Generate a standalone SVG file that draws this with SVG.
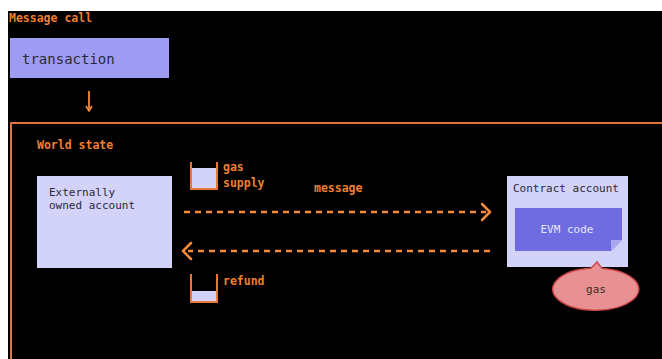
<svg xmlns="http://www.w3.org/2000/svg" width="662" height="359" viewBox="0 0 662 359">
  <defs>
    <style>
      .lbl { font-family: "DejaVu Sans Mono", "Liberation Mono", monospace; fill: #f07f30; font-weight: bold; font-size: 11.5px; }
      .mono { font-family: "DejaVu Sans Mono", "Liberation Mono", monospace; fill: #2a2a3a; }
      .dash { stroke: #f48a3c; stroke-width: 2.5; stroke-dasharray: 6 5; fill: none; }
      .chev { stroke: #f48a3c; stroke-width: 2.5; fill: none; stroke-linecap: round; stroke-linejoin: round; }
      .cup { stroke: #e8783a; stroke-width: 2; fill: none; }
    </style>
  </defs>

  <!-- page -->
  <rect x="0" y="0" width="662" height="359" fill="#ffffff"/>
  <rect x="8" y="11" width="654" height="348" fill="#000000"/>

  <g id="message-call">
    <text class="lbl" x="9" y="22">Message call</text>
  </g>

  <g id="transaction">
    <rect x="10" y="38" width="159" height="40" fill="#9d9cf2"/>
    <text class="mono" x="22" y="64" font-size="14">transaction</text>
  </g>

  <g id="world-state">
    <rect x="11" y="123" width="660" height="250" fill="none" stroke="#e0743a" stroke-width="2"/>
    <text class="lbl" x="37" y="149">World state</text>
  </g>

  <g id="eoa">
    <rect x="37" y="176" width="135" height="92" fill="#d3d2f8"/>
    <text class="mono" x="49" y="196" font-size="11">Externally</text>
    <text class="mono" x="49" y="209" font-size="11">owned account</text>
  </g>

  <g id="gas-supply">
    <rect x="191" y="168" width="26" height="21" fill="#d3d2f8"/>
    <path class="cup" d="M191 162 V189 H217 V162"/>
    <text class="lbl" x="223" y="171" font-size="11">gas</text>
    <text class="lbl" x="223" y="187" font-size="11">supply</text>
  </g>

  <g id="refund">
    <rect x="191" y="291" width="26" height="11" fill="#d3d2f8"/>
    <path class="cup" d="M191 274 V302 H217 V274"/>
    <text class="lbl" x="223" y="285">refund</text>
  </g>

  <g id="contract-account">
    <rect x="507" y="176" width="121" height="91" fill="#d3d2f8"/>
    <text class="mono" x="513" y="192" font-size="11">Contract account</text>
    <g id="evm-code">
      <path d="M515 208 H622 V240 L611 251 H515 Z" fill="#6e6ce0"/>
      <path d="M611 251 L611 240 H622 Z" fill="#a9a8f0"/>
      <text x="567" y="233" font-size="11" text-anchor="middle" font-family="DejaVu Sans Mono, Liberation Mono, monospace" fill="#e6e6ff">EVM code</text>
    </g>
  </g>

  <g id="gas">
    <path d="M591 268.3 L597 262 L602 268.4 A43 21 0 1 1 591 268.3 Z" fill="#e89192" stroke="#d04a4a" stroke-width="1.5"/>
    <text x="596" y="293" font-size="11" text-anchor="middle" font-family="DejaVu Sans Mono, Liberation Mono, monospace" fill="#3a2a2a">gas</text>
  </g>

  <g id="connectors">
    <line x1="89" y1="91" x2="89" y2="110" stroke="#f48a3c" stroke-width="1.8"/>
    <path d="M86 106 L89 111 L92 106" fill="none" stroke="#f48a3c" stroke-width="1.6"/>
    <text class="lbl" x="314" y="192">message</text>
    <line class="dash" x1="184" y1="212" x2="486" y2="212"/>
    <path class="chev" d="M482 204 L490 212 L482 220"/>
    <line class="dash" x1="490" y1="251" x2="188" y2="251"/>
    <path class="chev" d="M191 243 L183 251 L191 259"/>
  </g>
</svg>
